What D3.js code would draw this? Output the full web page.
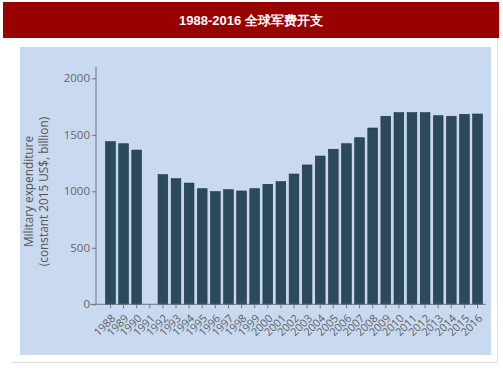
<!DOCTYPE html>
<html>
<head>
<meta charset="utf-8">
<script src="https://cdn.jsdelivr.net/npm/d3@7"></script>
<style>
  body { margin: 0; background: #fff; }
  svg { display: block; }
</style>
</head>
<body>
<svg id="chart"></svg>
<script>
// data
const years = ['1988','1989','1990','1991','1992','1993','1994','1995','1996','1997','1998','1999','2000','2001','2002',
  '2003','2004','2005','2006','2007','2008','2009','2010','2011','2012','2013','2014','2015','2016'];
const spending = [1439, 1421, 1365, null, 1147, 1112, 1073, 1023, 997, 1014, 1003, 1023, 1062, 1085, 1153,
  1233, 1312, 1372, 1421, 1474, 1560, 1664, 1696, 1696, 1696, 1669, 1664, 1681, 1684];
const yTicks = [0, 500, 1000, 1500, 2000];
const title = '1988-2016 全球军费开支';
const yTitle = ['Military expenditure', '(constant 2015 US$, billion)'];

const width = 503;
const height = 378;

const svg = d3.select('#chart')
    .attr('width', width)
    .attr('height', height);

// header band
svg.append('rect')
    .attr('x', 3).attr('y', 2)
    .attr('width', 496).attr('height', 36)
    .attr('fill', '#990000');

svg.append('text')
    .attr('x', 251).attr('y', 25)
    .attr('text-anchor', 'middle')
    .attr('fill', '#fff')
    .style('font', 'bold 13px "Liberation Sans", Arial, sans-serif')
    .text(title);

// light frame lines
svg.append('line')
    .attr('x1', 497.5).attr('x2', 497.5).attr('y1', 38).attr('y2', 362)
    .attr('stroke', '#dddddd');
svg.append('line')
    .attr('x1', 11).attr('x2', 497.5).attr('y1', 362.5).attr('y2', 362.5)
    .attr('stroke', '#dddddd');

// chart panel
svg.append('rect')
    .attr('x', 20).attr('y', 47)
    .attr('width', 471).attr('height', 308)
    .attr('fill', '#c9daf0');

// scales
const x = d3.scaleBand()
    .domain(years)
    .range([103.9, 484.1])
    .paddingInner(0.26)
    .paddingOuter(0.13);

const y = d3.scaleLinear()
    .domain([0, 2000])
    .range([304.3, 78.3]);

const g = svg.append('g');

// bars
g.selectAll('.bar')
    .data(years.map((yr, i) => ({ year: yr, value: spending[i] })).filter(d => d.value != null))
    .join('rect')
    .attr('class', 'bar')
    .attr('x', d => x(d.year))
    .attr('y', d => y(d.value))
    .attr('width', x.bandwidth())
    .attr('height', d => y(0) - y(d.value))
    .attr('fill', '#2c4a5d')
    .attr('stroke', '#1f3342')
    .attr('stroke-width', 0.6);

// y axis
const yAxis = g.append('g')
    .attr('transform', 'translate(96,0)')
    .call(d3.axisLeft(y).tickValues(yTicks).tickSize(4).tickPadding(2).tickFormat(d3.format('d')));
yAxis.select('.domain')
    .attr('d', 'M0,67V' + y(0))
    .attr('stroke', '#6b7785');
yAxis.selectAll('.tick line').attr('stroke', '#6b7785');
yAxis.selectAll('.tick text')
    .attr('fill', '#666')
    .style('font', '11.5px "Open Sans", sans-serif');

// x axis
const xAxis = g.append('g')
    .attr('transform', 'translate(0,' + y(0) + ')')
    .call(d3.axisBottom(x).tickSize(4).tickPadding(3));
xAxis.select('.domain')
    .attr('d', 'M90,0H486')
    .attr('stroke', '#6b7785');
xAxis.selectAll('.tick line').attr('stroke', '#6b7785');
xAxis.selectAll('.tick text')
    .attr('fill', '#5a5f66')
    .style('font', '11px "Open Sans", sans-serif')
    .attr('text-anchor', 'end')
    .attr('y', 0)
    .attr('dy', '0.35em')
    .attr('transform', 'translate(3,12) rotate(-45)');

// y axis title
const yt = svg.append('text')
    .attr('transform', 'translate(37,191.5) rotate(-90)')
    .attr('text-anchor', 'middle')
    .attr('fill', '#555')
    .style('font', '11.8px "Open Sans", sans-serif');
yt.selectAll('tspan')
    .data(yTitle)
    .join('tspan')
    .attr('x', 0)
    .attr('dy', (d, i) => i === 0 ? '-0.35em' : '1.3em')
    .text(d => d);
</script>
</body>
</html>
